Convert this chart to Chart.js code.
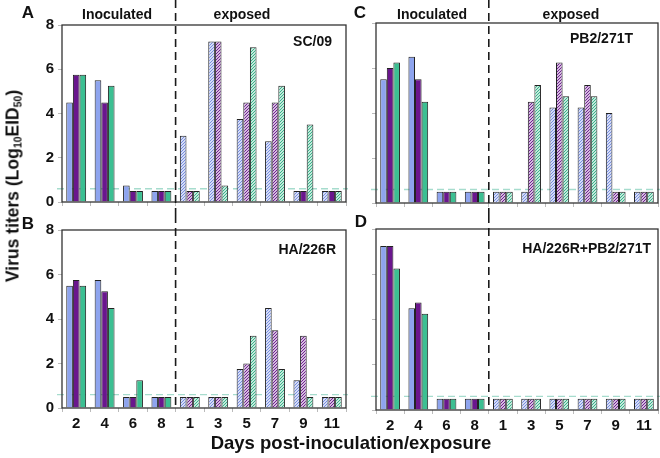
<!DOCTYPE html>
<html>
<head>
<meta charset="utf-8">
<script src="https://cdn.jsdelivr.net/npm/chart.js@4.4.1/dist/chart.umd.min.js"></script>
<style>
  body { margin: 0; background: #fff; width: 660px; height: 458px; position: relative; overflow: hidden;
         font-family: "Liberation Sans", Arial, sans-serif; color: #111; }
  canvas { position: absolute; }
  .title { position: absolute; font-weight: bold; white-space: nowrap; }
  .title sub { font-size: 60%; vertical-align: -0.3em; line-height: 0; }
</style>
</head>
<body>
<canvas id="cA" width="350" height="215" style="left:0;top:0"></canvas>
<canvas id="cB" width="350" height="225" style="left:0;top:215px"></canvas>
<canvas id="cC" width="310" height="215" style="left:350px;top:0"></canvas>
<canvas id="cD" width="310" height="225" style="left:350px;top:215px"></canvas>
<div class="title" id="ytitle" style="font-size:17.5px;left:13px;top:186px;transform:translate(-50%,-50%) rotate(-90deg)">Virus titers (Log<sub>10</sub>EID<sub>50</sub>)</div>
<div class="title" style="font-size:18.5px;left:351px;top:443px;transform:translate(-50%,-50%)">Days post-inoculation/exposure</div>
<script>
// days: first four inoculated, last six exposed
var days = ['2', '4', '6', '8', '1', '3', '5', '7', '9', '11'];
var yTicks = [0, 2, 4, 6, 8];
var lod = 0.6;

// A  SC/09
var scBlue   = [4.5, 5.5, 0.75, 0.5, 3.0, 7.25, 3.75, 2.75, 0.5, 0.5];
var scPurple = [5.75, 4.5, 0.5, 0.5, 0.5, 7.25, 4.5, 4.5, 0.5, 0.5];
var scGreen  = [5.75, 5.25, 0.5, 0.5, 0.5, 0.75, 7.0, 5.25, 3.5, 0.5];
// B  HA/226R
var haBlue   = [5.5, 5.75, 0.5, 0.5, 0.5, 0.5, 1.75, 4.5, 1.25, 0.5];
var haPurple = [5.75, 5.25, 0.5, 0.5, 0.5, 0.5, 2.0, 3.5, 3.25, 0.5];
var haGreen  = [5.5, 4.5, 1.25, 0.5, 0.5, 0.5, 3.25, 1.75, 0.5, 0.5];
// C  PB2/271T
var pbBlue   = [5.5, 6.5, 0.5, 0.5, 0.5, 0.5, 4.25, 4.25, 4.0, 0.5];
var pbPurple = [6.0, 5.5, 0.5, 0.5, 0.5, 4.5, 6.25, 5.25, 0.5, 0.5];
var pbGreen  = [6.25, 4.5, 0.5, 0.5, 0.5, 5.25, 4.75, 4.75, 0.5, 0.5];
// D  HA/226R+PB2/271T
var dBlue    = [7.25, 4.5, 0.5, 0.5, 0.5, 0.5, 0.5, 0.5, 0.5, 0.5];
var dPurple  = [7.25, 4.75, 0.5, 0.5, 0.5, 0.5, 0.5, 0.5, 0.5, 0.5];
var dGreen   = [6.25, 4.25, 0.5, 0.5, 0.5, 0.5, 0.5, 0.5, 0.5, 0.5];

var colors = ['#8ea4ee', '#6a168d', '#3cbf92'];
var hatchColors = ['#7088e0', '#6a168d', '#2fb084'];
var FONT = '"Liberation Sans", Arial, sans-serif';

function hatch(color) {
  var n = 3;
  var c = document.createElement('canvas');
  c.width = n; c.height = n;
  var g = c.getContext('2d');
  g.fillStyle = '#fff';
  g.fillRect(0, 0, n, n);
  g.strokeStyle = color;
  g.lineWidth = 1.1;
  g.beginPath();
  g.moveTo(-1, n + 1); g.lineTo(n + 1, -1);
  g.moveTo(-1, 1); g.lineTo(1, -1);
  g.moveTo(n - 1, n + 1); g.lineTo(n + 1, n - 1);
  g.stroke();
  return g.createPattern(c, 'repeat');
}

// exposed bars are hatched, except the ones listed in solid
function fills(k, solid) {
  var p = hatch(hatchColors[k]);
  return days.map(function (d, i) {
    return (i < 4 || solid.indexOf(i) >= 0) ? colors[k] : p;
  });
}

var panelDeco = {
  id: 'panelDeco',
  beforeDatasetsDraw: function (chart) {
    var ctx = chart.ctx, a = chart.chartArea;
    var y = chart.scales.y.getPixelForValue(lod);
    ctx.save();
    ctx.setLineDash([7, 4]);
    ctx.strokeStyle = '#a6dccd';
    ctx.lineWidth = 1.3;
    ctx.beginPath();
    ctx.moveTo(a.left - 5, y);
    ctx.lineTo(a.right + 2, y);
    ctx.stroke();
    ctx.restore();
  },
  afterDatasetsDraw: function (chart, args, o) {
    var ctx = chart.ctx, a = chart.chartArea, xs = chart.scales.x;
    ctx.save();
    ctx.strokeStyle = '#333';
    ctx.lineWidth = 1.3;
    ctx.strokeRect(a.left, a.top, a.right - a.left, a.bottom - a.top);

    var xm = (xs.getPixelForValue(3) + xs.getPixelForValue(4)) / 2;
    ctx.strokeStyle = '#1a1a1a';
    ctx.lineWidth = 1.6;
    ctx.setLineDash([8, 5]);
    ctx.beginPath();
    ctx.moveTo(xm, 0);
    ctx.lineTo(xm, o.toBottom ? chart.height : a.bottom);
    ctx.stroke();
    ctx.setLineDash([]);

    ctx.fillStyle = '#111';
    ctx.textBaseline = 'middle';
    ctx.font = 'bold 17px ' + FONT;
    ctx.textAlign = 'center';
    ctx.fillText(o.letter[0], o.letter[1], o.letter[2]);
    ctx.font = 'bold 14px ' + FONT;
    if (o.groups) {
      ctx.fillText('Inoculated', o.groups[0], 15);
      ctx.fillText('exposed', o.groups[1], 15);
    }
    ctx.textAlign = 'right';
    ctx.fillText(o.name[0], o.name[1], o.name[2]);
    ctx.restore();
  }
};

function makePanel(id, vals, solid, o) {
  new Chart(document.getElementById(id), {
    type: 'bar',
    data: {
      labels: days,
      datasets: vals.map(function (v, k) {
        return {
          data: v,
          backgroundColor: fills(k, solid[k]),
          borderColor: '#222',
          borderWidth: 1,
          categoryPercentage: 0.7,
          barPercentage: 1
        };
      })
    },
    options: {
      responsive: false,
      animation: false,
      layout: { padding: o.pad },
      plugins: {
        legend: { display: false },
        tooltip: { enabled: false },
        panelDeco: o.deco
      },
      scales: {
        x: {
          offset: true,
          grid: { offset: true, drawOnChartArea: false, tickLength: 4, color: '#bbb' },
          border: { display: false },
          ticks: { display: o.xLabels, padding: 3, color: '#111', font: { size: 15, weight: 'bold', family: FONT } },
          afterFit: function (s) { s.height = o.xh; }
        },
        y: {
          min: 0, max: 8,
          afterBuildTicks: function (s) { s.ticks = yTicks.map(function (v) { return { value: v }; }); },
          grid: { drawOnChartArea: false, tickLength: 4, color: '#bbb' },
          border: { display: false },
          ticks: { display: o.yLabels, padding: 4, color: '#111', font: { size: 15, weight: 'bold', family: FONT } },
          afterFit: function (s) { s.width = o.yw; }
        }
      }
    },
    plugins: [panelDeco]
  });
}

makePanel('cA', [scBlue, scPurple, scGreen], [[], [8, 9], []], {
  pad: { top: 25, right: 4, left: 0, bottom: 0 }, xh: 12, yw: 62, xLabels: false, yLabels: true,
  deco: { letter: ['A', 28, 13], groups: [117, 242], name: ['SC/09', 332, 42], toBottom: true }
});
makePanel('cB', [haBlue, haPurple, haGreen], [[], [], []], {
  pad: { top: 15, right: 4, left: 0, bottom: 0 }, xh: 32, yw: 62, xLabels: true, yLabels: true,
  deco: { letter: ['B', 28, 9], name: ['HA/226R', 336, 35], toBottom: false }
});
makePanel('cC', [pbBlue, pbPurple, pbGreen], [[], [], []], {
  pad: { top: 23, right: 2, left: 0, bottom: 0 }, xh: 12, yw: 26, xLabels: false, yLabels: false,
  deco: { letter: ['C', 10, 13], groups: [82, 221], name: ['PB2/271T', 283, 39], toBottom: true }
});
makePanel('cD', [dBlue, dPurple, dGreen], [[], [], []], {
  pad: { top: 14, right: 2, left: 0, bottom: 0 }, xh: 30, yw: 26, xLabels: true, yLabels: false,
  deco: { letter: ['D', 11, 7], name: ['HA/226R+PB2/271T', 301, 34], toBottom: false }
});
</script>
</body>
</html>
